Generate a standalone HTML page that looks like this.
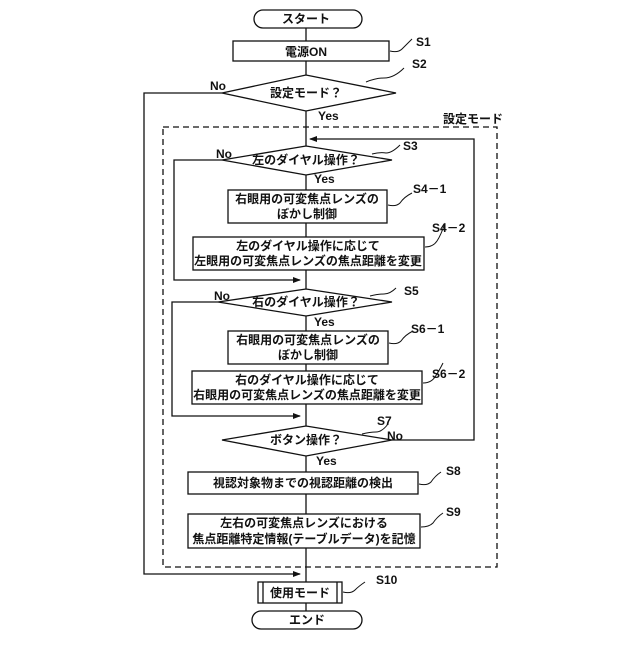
<!DOCTYPE html><html><head><style>body{margin:0;background:#fff}text{font-family:"Liberation Sans","Noto Sans CJK JP",sans-serif;font-weight:bold;font-size:12px;fill:#111}</style></head><body>
<svg width="640" height="640" viewBox="0 0 640 640" xmlns="http://www.w3.org/2000/svg" stroke="#111" stroke-width="1.3" fill="none">
<defs><marker id="a" markerWidth="8" markerHeight="8" refX="7" refY="4" orient="auto" markerUnits="userSpaceOnUse"><path d="M0,1 L8,4 L0,7z" fill="#111" stroke="none"/></marker></defs>
<!-- main line -->
<line x1="306" y1="28" x2="306" y2="611"/>
<rect x="254" y="10" width="108" height="18" rx="9" fill="#fff"/>
<rect x="233" y="41" width="156" height="20" fill="#fff"/>
<polygon points="222,93 306,75 396,93 306,111" fill="#fff"/>
<rect x="163" y="127" width="334" height="440" stroke-dasharray="6,4"/>
<polyline points="222,93 144,93 144,574 300,574" marker-end="url(#a)"/>
<polyline points="392,440 474,440 474,139 310,139" marker-end="url(#a)"/>
<polygon points="222,160 306,146 392,160 306,175" fill="#fff"/>
<polyline points="222,160 174,160 174,280 300,280" marker-end="url(#a)"/>
<rect x="228" y="190" width="159" height="33" fill="#fff"/>
<rect x="193" y="237" width="231" height="33" fill="#fff"/>
<polygon points="218,302 306,289 392,302 306,316" fill="#fff"/>
<polyline points="218,302 172,302 172,416 300,416" marker-end="url(#a)"/>
<rect x="228" y="331" width="160" height="33" fill="#fff"/>
<rect x="192" y="371" width="230" height="33" fill="#fff"/>
<polygon points="222,440 306,426 392,440 306,456" fill="#fff"/>
<rect x="188" y="472" width="230" height="22" fill="#fff"/>
<rect x="188" y="514" width="232" height="34" fill="#fff"/>
<rect x="258" y="582" width="84" height="21" fill="#fff"/>
<line x1="263" y1="582" x2="263" y2="603"/><line x1="337" y1="582" x2="337" y2="603"/>
<rect x="252" y="611" width="110" height="18" rx="9" fill="#fff"/>
<!-- squiggles -->
<g stroke-width="1">
<path d="M390,51 q8,2 12,-2 q4,-4 10,-10"/>
<path d="M366,82 q10,-4 18,-4 q10,0 20,-10"/>
<path d="M372,154 q8,-2 14,-1 q6,0 14,-8"/>
<path d="M388,205 q8,2 12,-2 q4,-6 12,-10"/>
<path d="M425,247 q8,0 12,-6 q4,-6 8,-18"/>
<path d="M370,296 q8,-2 14,-2 q6,0 12,-6"/>
<path d="M389,343 q8,2 12,-2 q4,-6 12,-10"/>
<path d="M423,383 q8,0 12,-6 q4,-6 8,-14"/>
<path d="M362,434 q8,-2 14,-2 q6,0 12,-8"/>
<path d="M419,484 q8,2 12,-2 q4,-6 10,-10"/>
<path d="M421,527 q8,0 12,-4 q4,-6 10,-10"/>
<path d="M343,592 q8,2 12,-2 q4,-4 10,-8"/>
</g>
<g stroke="none">
<text x="306" y="23" text-anchor="middle">スタート</text>
<text x="306" y="56" text-anchor="middle">電源ON</text>
<text x="306" y="97" text-anchor="middle">設定モード？</text>
<text x="306" y="164" text-anchor="middle">左のダイヤル操作？</text>
<text x="306" y="306" text-anchor="middle">右のダイヤル操作？</text>
<text x="306" y="444" text-anchor="middle">ボタン操作？</text>
<text x="307" y="203" text-anchor="middle">右眼用の可変焦点レンズの</text>
<text x="307" y="218" text-anchor="middle">ぼかし制御</text>
<text x="308" y="250" text-anchor="middle">左のダイヤル操作に応じて</text>
<text x="308" y="265" text-anchor="middle">左眼用の可変焦点レンズの焦点距離を変更</text>
<text x="308" y="344" text-anchor="middle">右眼用の可変焦点レンズの</text>
<text x="308" y="359" text-anchor="middle">ぼかし制御</text>
<text x="307" y="384" text-anchor="middle">右のダイヤル操作に応じて</text>
<text x="307" y="399" text-anchor="middle">右眼用の可変焦点レンズの焦点距離を変更</text>
<text x="303" y="487" text-anchor="middle">視認対象物までの視認距離の検出</text>
<text x="304" y="527" text-anchor="middle">左右の可変焦点レンズにおける</text>
<text x="304" y="543" text-anchor="middle">焦点距離特定情報(テーブルデータ)を記憶</text>
<text x="300" y="597" text-anchor="middle">使用モード</text>
<text x="307" y="624" text-anchor="middle">エンド</text>
<text x="210" y="90">No</text>
<text x="318" y="120">Yes</text>
<text x="443" y="123">設定モード</text>
<text x="216" y="158">No</text>
<text x="314" y="183">Yes</text>
<text x="214" y="300">No</text>
<text x="314" y="326">Yes</text>
<text x="387" y="440">No</text>
<text x="316" y="465">Yes</text>
<text x="416" y="46">S1</text>
<text x="412" y="68">S2</text>
<text x="403" y="150">S3</text>
<text x="413" y="193">S4－1</text>
<text x="432" y="232">S4－2</text>
<text x="404" y="295">S5</text>
<text x="411" y="333">S6－1</text>
<text x="432" y="378">S6－2</text>
<text x="377" y="425">S7</text>
<text x="446" y="475">S8</text>
<text x="446" y="516">S9</text>
<text x="376" y="584">S10</text>
</g>
</svg></body></html>
